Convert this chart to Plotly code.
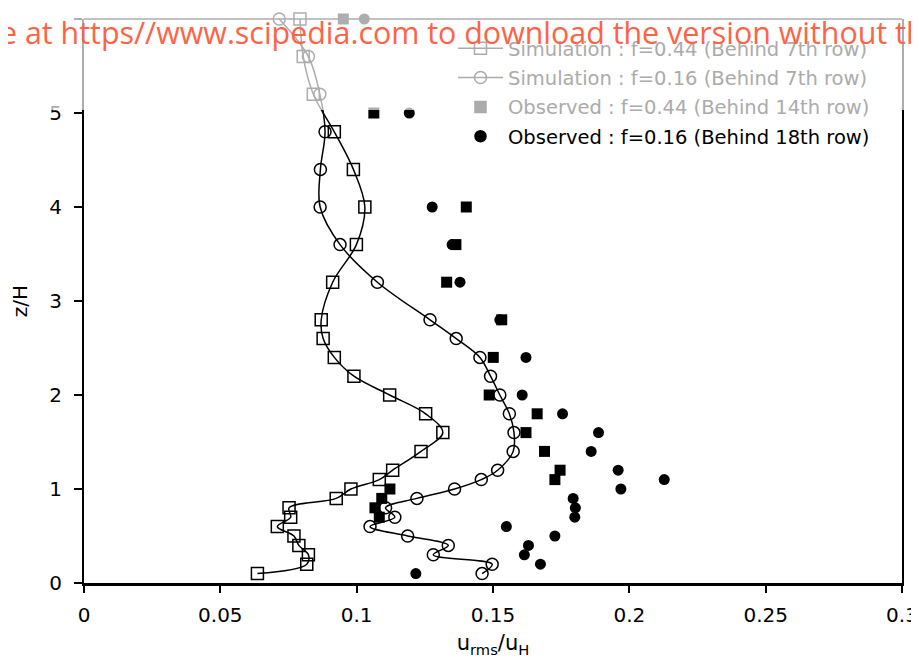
import plotly.graph_objects as go

# ---------------- data ----------------
z_sim = [0.1, 0.2, 0.3, 0.4, 0.5, 0.6, 0.7, 0.8, 0.9, 1.0, 1.1, 1.2,
         1.4, 1.6, 1.8, 2.0, 2.2, 2.4, 2.6, 2.8,
         3.2, 3.6, 4.0, 4.4, 4.8, 5.2, 5.6, 6.0]
sim_f044 = [0.0636, 0.0817, 0.0823, 0.0788, 0.0770, 0.0709, 0.0758, 0.0752, 0.0925, 0.0979, 0.1083, 0.1132,
            0.1236, 0.1316, 0.1253, 0.1121, 0.0990, 0.0918, 0.0877, 0.0870,
            0.0912, 0.0999, 0.1030, 0.0988, 0.0918, 0.0841, 0.0804, 0.0792]
sim_f016 = [0.1460, 0.1497, 0.1281, 0.1336, 0.1187, 0.1049, 0.1140, 0.1106, 0.1221, 0.1359, 0.1457, 0.1517,
            0.1574, 0.1577, 0.1560, 0.1525, 0.1491, 0.1452, 0.1365, 0.1269,
            0.1076, 0.0939, 0.0866, 0.0867, 0.0884, 0.0865, 0.0823, 0.0716]

z_obs044 = [0.7, 0.8, 0.9, 1.0, 1.1, 1.2, 1.4, 1.6, 1.8, 2.0, 2.4, 2.8, 3.2, 3.6, 4.0, 5.0, 6.0]
obs_f044 = [0.1083, 0.1067, 0.1092, 0.1122, 0.1727, 0.1746, 0.1689, 0.1621, 0.1662, 0.1486,
            0.1501, 0.1532, 0.1330, 0.1364, 0.1402, 0.1063, 0.0951]

z_obs016 = [0.1, 0.2, 0.3, 0.4, 0.5, 0.6, 0.7, 0.8, 0.9, 1.0, 1.1, 1.2, 1.4, 1.6, 1.8, 2.0,
            2.4, 2.8, 3.2, 3.6, 4.0, 5.0, 6.0]
obs_f016 = [0.1217, 0.1674, 0.1615, 0.1630, 0.1727, 0.1549, 0.1800, 0.1802, 0.1794, 0.1969,
            0.2128, 0.1959, 0.1860, 0.1887, 0.1755, 0.1607, 0.1621, 0.1525, 0.1379, 0.1350,
            0.1277, 0.1193, 0.1028]

names = ["Simulation : f=0.44 (Behind 7th row)",
         "Simulation : f=0.16 (Behind 7th row)",
         "Observed : f=0.44 (Behind 14th row)",
         "Observed : f=0.16 (Behind 18th row)"]

x_ticks = [0, 0.05, 0.1, 0.15, 0.2, 0.25, 0.3]
x_ticktext = ["0", "0.05", "0.1", "0.15", "0.2", "0.25", "0.3"]
y_ticks = [0, 1, 2, 3, 4, 5, 6]

watermark = "e at https//www.scipedia.com to download the version without th"

# ---------------- figure ----------------
OFF = 8  # page body margin
W, H = 919 - OFF, 664 - OFF
L, T = 84 - OFF, 19 - OFF
R = W - (902 - OFF)
B = H - (583 - OFF)
plot_h = H - T - B
plot_w = W - L - R

def py(page_y):  # page pixel y -> paper y
    return (H - B - (page_y - OFF)) / plot_h

def px(page_x):
    return (page_x - OFF - L) / plot_w

GRAY = "#ababab"
fig = go.Figure()

fig.add_trace(go.Scatter(x=sim_f044, y=z_sim, mode="lines+markers",
                         line=dict(color="black", width=1.5, shape="spline", smoothing=1),
                         marker=dict(symbol="square-open", size=12, color="black", line=dict(width=1.5)),
                         showlegend=False, cliponaxis=False))
fig.add_trace(go.Scatter(x=sim_f016, y=z_sim, mode="lines+markers",
                         line=dict(color="black", width=1.5, shape="spline", smoothing=1),
                         marker=dict(symbol="circle-open", size=12, color="black", line=dict(width=1.5)),
                         showlegend=False, cliponaxis=False))
fig.add_trace(go.Scatter(x=obs_f044, y=z_obs044, mode="markers",
                         marker=dict(symbol="square", size=11, color="black"),
                         showlegend=False, cliponaxis=False))
fig.add_trace(go.Scatter(x=obs_f016, y=z_obs016, mode="markers",
                         marker=dict(symbol="circle", size=11, color="black"),
                         showlegend=False, cliponaxis=False))

# legend entries (greyed where the reference's top band washes them out)
leg = [
    (names[0], "lines+markers", "square-open", GRAY, 12),
    (names[1], "lines+markers", "circle-open", GRAY, 12),
    (names[2], "markers", "square", GRAY, 11),
    (names[3], "markers", "circle", "black", 11),
]
for i, (nm, md, sym, col, sz) in enumerate(leg):
    label = nm if col == "black" else f'<span style="color:{col}">{nm}</span>'
    fig.add_trace(go.Scatter(x=[None], y=[None], mode=md, name=label, legendgroup=str(i),
                             line=dict(color=col, width=1.5),
                             marker=dict(symbol=sym, size=sz, color=col, line=dict(width=1.5, color=col))))

fig.update_layout(
    width=W, height=H, autosize=False,
    margin=dict(l=L, r=R, t=T, b=B, pad=0, autoexpand=False),
    plot_bgcolor="white", paper_bgcolor="white",
    font=dict(family="DejaVu Sans", color="black", size=20),
    xaxis=dict(range=[0, 0.3], tickvals=x_ticks, ticktext=x_ticktext, automargin=False,
               showgrid=False, zeroline=False, showline=True, linecolor="black", linewidth=3,
               ticks="outside", ticklen=7, tickwidth=1.5, tickcolor="black",
               tickfont=dict(size=20), ticklabelstandoff=5,
               title=dict(text="u<sub>rms</sub>/u<sub>H</sub>", font=dict(size=21), standoff=10)),
    yaxis=dict(range=[0, 6], tickvals=y_ticks, automargin=False,
               showgrid=False, zeroline=False, showline=True, linecolor="black", linewidth=2,
               mirror=True,
               ticks="outside", ticklen=8, tickwidth=1.5, tickcolor="black",
               tickfont=dict(size=20), ticklabelstandoff=8,
               title=dict(text="z/H", font=dict(size=20), standoff=16)),
    legend=dict(x=px(453), y=py(29), xanchor="left", yanchor="top",
                bgcolor="rgba(0,0,0,0)", borderwidth=0,
                font=dict(family="DejaVu Sans", size=19.5, color="black"),
                itemwidth=45, traceorder="grouped", tracegroupgap=1),
    shapes=[
        dict(type="line", xref="paper", yref="paper", x0=0, x1=1, y0=1, y1=1,
             line=dict(color="black", width=1.5), layer="above"),
        dict(type="rect", xref="paper", yref="paper", x0=-0.2, x1=1.2, y0=py(110), y1=1.2,
             fillcolor="white", opacity=0.68, line=dict(width=0), layer="above"),
    ],
    annotations=[
        dict(text=watermark, xref="paper", yref="paper", x=px(-2), y=py(32),
             xanchor="left", yanchor="middle", showarrow=False,
             font=dict(family="Open Sans", size=30.4, color="#ff6347")),
    ],
)

fig.write_html("out.html")
